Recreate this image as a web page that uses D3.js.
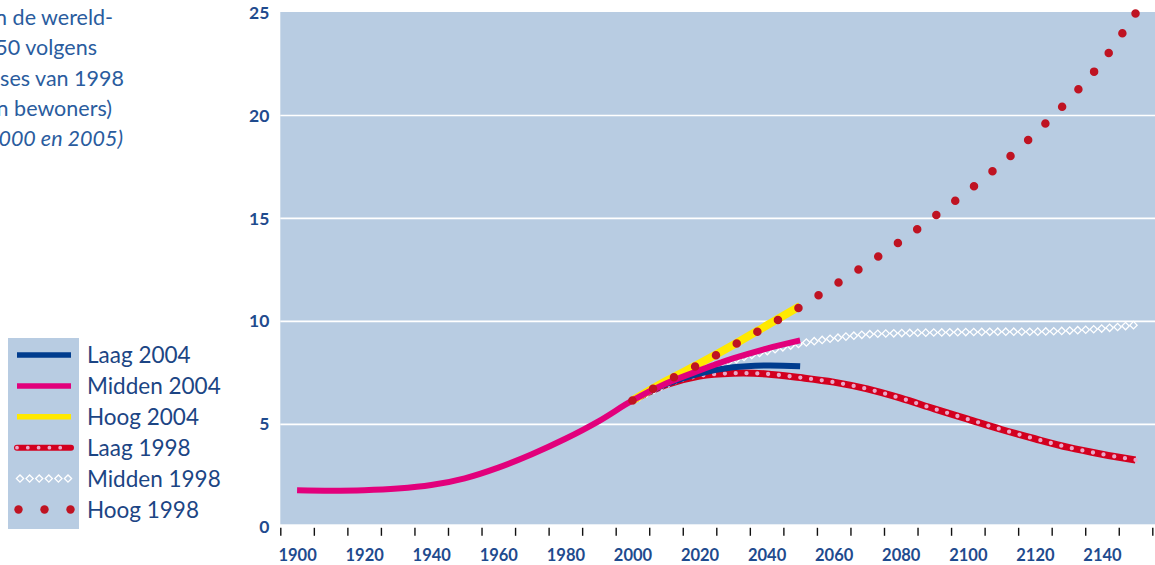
<!DOCTYPE html>
<html>
<head>
<meta charset="utf-8">
<title>Wereldbevolking prognoses</title>
<script src="https://d3js.org/d3.v7.min.js"></script>
<style>
    body { margin: 0; background: #fff; font-family: Lato, "Open Sans", sans-serif; }
    svg { display: block; }
    .axis text { fill: #1f4b8e; font-family: Lato, sans-serif; font-weight: bold; }
    .legend text { fill: #1c4584; font-size: 22.5px; }
    .title text { fill: #2a5c9e; font-size: 21.5px; }
</style>
</head>
<body>
<svg width="1155" height="565"></svg>
<script>
// --- data (billions of people) ---
const yearsHist = [1900, 1910, 1920, 1930, 1940, 1950, 1960, 1970, 1980, 1990, 2000, 2010, 2020, 2030, 2040, 2050];
const midden2004 = [1.8, 1.78, 1.8, 1.88, 2.05, 2.38, 2.9, 3.55, 4.3, 5.16, 6.16, 6.98, 7.62, 8.2, 8.68, 9.08];

const years2004 = [2000, 2010, 2020, 2030, 2040, 2050];
const laag2004 = [6.16, 6.95, 7.47, 7.77, 7.86, 7.82];
const hoog2004 = [6.16, 7.1, 7.95, 8.85, 9.8, 10.75];

const years1998 = [2000, 2010, 2020, 2030, 2040, 2050, 2060, 2070, 2080, 2090, 2100, 2110, 2120, 2130, 2140, 2150];
const laag1998 = [6.16, 6.92, 7.35, 7.48, 7.45, 7.27, 7.05, 6.72, 6.27, 5.75, 5.25, 4.75, 4.3, 3.88, 3.55, 3.27];
const midden1998 = [6.16, 6.95, 7.6, 8.12, 8.55, 8.92, 9.18, 9.37, 9.43, 9.46, 9.48, 9.5, 9.5, 9.55, 9.65, 9.83];
const hoog1998 = [6.16, 7.08, 7.92, 8.82, 9.75, 10.7, 11.74, 12.8, 13.9, 15.09, 16.33, 17.65, 19.12, 20.75, 22.6, 24.95];

const tickYears = [1895, 1905, 1915, 1925, 1935, 1945, 1955, 1965, 1975, 1985, 1995, 2005, 2015, 2025, 2035, 2045, 2055, 2065, 2075, 2085, 2095, 2105, 2115, 2125, 2135, 2145, 2155];
const labelYears = [1900, 1920, 1940, 1960, 1980, 2000, 2020, 2040, 2060, 2080, 2100, 2120, 2140];
const yTicks = [0, 5, 10, 15, 20, 25];
const gridValues = [5, 10, 15, 20];

const titleLines = ["n de wereld-", "50 volgens", "ses van 1998", "n bewoners)", "000 en 2005)"];
const legendNames = ["Laag 2004", "Midden 2004", "Hoog 2004", "Laag 1998", "Midden 1998", "Hoog 1998"];

const bg = "#b8cce2";
const svg = d3.select("svg");

const x = d3.scaleLinear().domain([1895, 2155]).range([280.3, 1152.3]);
const y = d3.scaleLinear().domain([0, 25]).range([527.3, 12.5]);

// plot background
svg.append("rect")
    .attr("x", x(1895)).attr("y", y(25) - 0.5)
    .attr("width", 1155 - x(1895)).attr("height", y(0) - 3 - y(25) + 0.5)
    .attr("fill", bg);

// gridlines
svg.append("g").selectAll("line")
    .data(gridValues)
    .enter().append("line")
    .attr("x1", x(1895)).attr("x2", 1155)
    .attr("y1", d => y(d)).attr("y2", d => y(d))
    .attr("stroke", "#fff").attr("stroke-width", 1.6);

// axes
const yAxis = svg.append("g")
    .attr("class", "axis")
    .attr("transform", "translate(" + x(1895) + ",0)")
    .call(d3.axisLeft(y).tickValues(yTicks).tickSize(0).tickPadding(11));
yAxis.select(".domain").remove();
yAxis.selectAll("text").style("font-size", "17.5px");

const xTicks = svg.append("g")
    .attr("transform", "translate(0," + (y(0) + 0.5) + ")")
    .call(d3.axisBottom(x).tickValues(tickYears).tickFormat("").tickSize(8));
xTicks.select(".domain").remove();
xTicks.selectAll("line").attr("stroke", "#111").attr("stroke-width", 1.4);

const xLabels = svg.append("g")
    .attr("class", "axis")
    .attr("transform", "translate(0," + y(0) + ")")
    .call(d3.axisBottom(x).tickValues(labelYears).tickFormat(d3.format("d")).tickSize(0).tickPadding(22));
xLabels.select(".domain").remove();
xLabels.selectAll("text").style("font-size", "16.5px");

// series
const line = (xs, ys) => d3.line()
    .x((d, i) => x(xs[i]))
    .y(d => y(d))
    .curve(d3.curveCatmullRom.alpha(0.5))(ys);

// spread dash gaps so a dot lands on both ends of the path
const evenDots = (path, step) => {
    const len = path.node().getTotalLength();
    const n = Math.max(1, Math.round(len / step));
    path.attr("stroke-dasharray", "0 " + (len / n - 0.001));
};

const plot = svg.append("g");

// Laag 1998: red band with pink dots
plot.append("path").attr("d", line(years1998, laag1998))
    .attr("fill", "none").attr("stroke", "#d3001f").attr("stroke-width", 7);
const laagDots = plot.append("path").attr("d", line(years1998, laag1998))
    .attr("fill", "none").attr("stroke", "#e9a8c8").attr("stroke-width", 4.3)
    .attr("stroke-linecap", "round");
evenDots(laagDots, 10.8);

// Midden 1998: chain of hollow diamonds along the path
const midPath = plot.append("path").attr("d", line(years1998, midden1998))
    .attr("fill", "none").attr("stroke", "none");
const midNode = midPath.node();
const midLen = midNode.getTotalLength();
const diamondPts = d3.range(0, midLen, 8).map(l => midNode.getPointAtLength(l));
plot.append("g").selectAll("path")
    .data(diamondPts)
    .enter().append("path")
    .attr("d", d3.symbol().type(d3.symbolSquare).size(27))
    .attr("transform", d => "translate(" + d.x + "," + d.y + ") rotate(45)")
    .attr("fill", bg).attr("stroke", "#fff").attr("stroke-width", 1.3);

// Laag 2004
plot.append("path").attr("d", line(years2004, laag2004))
    .attr("fill", "none").attr("stroke", "#003c8e").attr("stroke-width", 6);

// Hoog 2004
plot.append("path").attr("d", line(years2004, hoog2004))
    .attr("fill", "none").attr("stroke", "#ffe900").attr("stroke-width", 8);

// Midden 2004
plot.append("path").attr("d", line(yearsHist, midden2004))
    .attr("fill", "none").attr("stroke", "#e2007c").attr("stroke-width", 6);

// Hoog 1998: round dots
const hoogDots = plot.append("path").attr("d", line(years1998, hoog1998))
    .attr("fill", "none").attr("stroke", "#bf1322").attr("stroke-width", 8.5)
    .attr("stroke-linecap", "round");
evenDots(hoogDots, 23.8);

// title fragment (cut at the left edge)
svg.append("g").attr("class", "title")
    .selectAll("text")
    .data(titleLines)
    .enter().append("text")
    .attr("x", (d, i) => [113, 97, 124, 112, 123][i])
    .attr("y", (d, i) => 25 + i * 30.3)
    .attr("text-anchor", "end")
    .style("font-style", (d, i) => i === 4 ? "italic" : "normal")
    .text(d => d);

// legend
const legend = svg.append("g").attr("class", "legend");
legend.append("rect")
    .attr("x", 8).attr("y", 338).attr("width", 71).attr("height", 191)
    .attr("fill", bg);

const rowY = i => 355 + i * 30.9;
const items = legend.selectAll("g.item")
    .data(legendNames)
    .enter().append("g").attr("class", "item");

items.append("text")
    .attr("x", 87).attr("y", (d, i) => rowY(i) + 8)
    .text(d => d);

const simple = [["#003c8e", 5.5], ["#e2007c", 5.5], ["#ffe900", 5.5]];
simple.forEach((s, i) => {
    legend.append("line")
        .attr("x1", 17).attr("x2", 71).attr("y1", rowY(i)).attr("y2", rowY(i))
        .attr("stroke", s[0]).attr("stroke-width", s[1]);
});
legend.append("line")
    .attr("x1", 17).attr("x2", 71).attr("y1", rowY(3)).attr("y2", rowY(3))
    .attr("stroke", "#d3001f").attr("stroke-width", 6).attr("stroke-linecap", "round");
legend.append("line")
    .attr("x1", 17).attr("x2", 71).attr("y1", rowY(3)).attr("y2", rowY(3))
    .attr("stroke", "#e9a8c8").attr("stroke-width", 3.8)
    .attr("stroke-linecap", "round").attr("stroke-dasharray", "0 10.8");
legend.append("g").selectAll("path")
    .data(d3.range(20, 72, 9.6))
    .enter().append("path")
    .attr("d", d3.symbol().type(d3.symbolSquare).size(26))
    .attr("transform", d => "translate(" + d + "," + rowY(4) + ") rotate(45)")
    .attr("fill", bg).attr("stroke", "#fff").attr("stroke-width", 1.3);
legend.append("g").selectAll("circle")
    .data([18.5, 44.5, 70.5])
    .enter().append("circle")
    .attr("cx", d => d).attr("cy", rowY(5)).attr("r", 4.2)
    .attr("fill", "#bf1322");
</script>
</body>
</html>
